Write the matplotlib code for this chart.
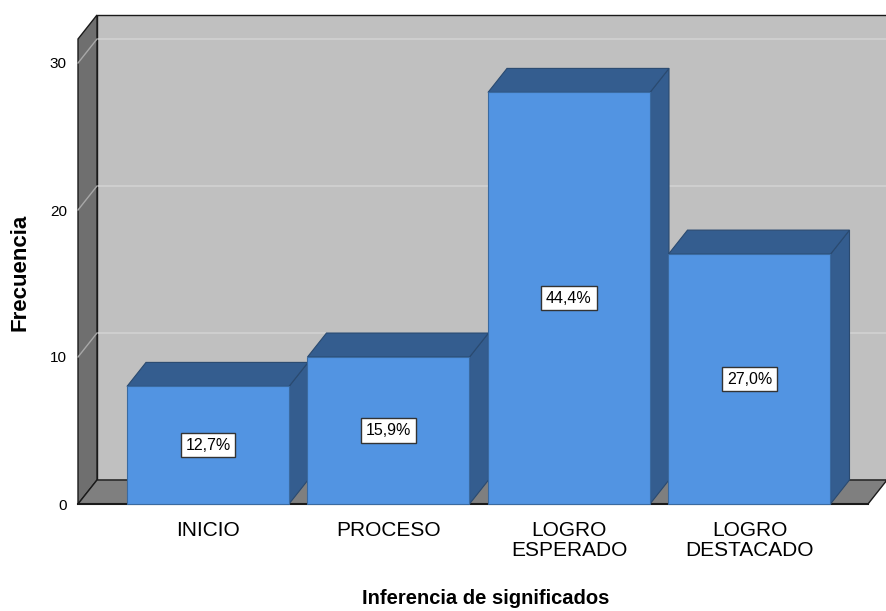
import matplotlib
matplotlib.use("Agg")
import matplotlib.pyplot as plt
from matplotlib.patches import Polygon

# Frecuencias por nivel
categorias = ["INICIO", "PROCESO", "LOGRO\nESPERADO", "LOGRO\nDESTACADO"]
frecuencias = [8, 10, 28, 17]
porcentajes = ["12,7%", "15,9%", "44,4%", "27,0%"]
yticks = [0, 10, 20, 30]

plt.rcParams["font.family"] = ["Liberation Sans", "DejaVu Sans"]

W, H = 887, 611
fig = plt.figure(figsize=(W / 100, H / 100), dpi=100)

# front plane in pixels
px_left, px_right, px_bottom, px_top = 78, 868, 504, 39
ax = fig.add_axes([px_left / W, (H - px_bottom) / H,
                   (px_right - px_left) / W, (px_bottom - px_top) / H])

ux = 180.5            # px per category
uy = 14.7             # px per unit
x0 = 208              # px of first category
xl = (px_left - x0) / ux
xr = (px_right - x0) / ux
ymax = (px_bottom - px_top) / uy
ax.set_xlim(xl, xr)
ax.set_ylim(0, ymax)

ddx = 19 / ux
ddy = 24 / uy
half = 81 / ux

wall = "#c0c0c0"
side_wall = "#6f6f6f"
floor = "#7f7f7f"
front = "#5294e2"
dark = "#345d8f"
edge = "#1a1a1a"

def poly(pts, fc, ec=edge, lw=1.0, z=1):
    p = Polygon(pts, closed=True, facecolor=fc, edgecolor=ec, linewidth=lw,
                clip_on=False, zorder=z, joinstyle="miter")
    ax.add_patch(p)

# back wall
poly([(xl + ddx, ddy), (xr + ddx + 0.5, ddy), (xr + ddx + 0.5, ymax + ddy),
      (xl + ddx, ymax + ddy)], wall, z=1)
for t in yticks[1:]:
    ax.plot([xl + ddx, xr + ddx + 0.5], [t + ddy, t + ddy], color="#d2d2d2",
            lw=1.2, zorder=2, clip_on=False)
# left wall
poly([(xl, 0), (xl + ddx, ddy), (xl + ddx, ymax + ddy), (xl, ymax)], side_wall, z=3)
for t in yticks[1:]:
    ax.plot([xl, xl + ddx], [t, t + ddy], color="#a8a8a8", lw=1.0, zorder=4,
            clip_on=False)
# floor
poly([(xl, 0), (xr, 0), (xr + ddx, ddy), (xl + ddx, ddy)], floor, z=3)
ax.plot([xl, xr], [0, 0], color=edge, lw=1.5, zorder=4, clip_on=False)

# bars
for i, (v, lab) in enumerate(zip(frecuencias, porcentajes)):
    a, b = i - half, i + half
    z = 5 + i
    poly([(b, 0), (b + ddx, ddy), (b + ddx, v + ddy), (b, v)], dark,
         ec="#2a4a70", lw=0.8, z=z)
    poly([(a, v), (b, v), (b + ddx, v + ddy), (a + ddx, v + ddy)], dark,
         ec="#2a4a70", lw=0.8, z=z)
    poly([(a, 0), (b, 0), (b, v), (a, v)], front, ec="#3a6aa0", lw=0.8, z=z)
    ax.text(i, v / 2, lab, ha="center", va="center", fontsize=11.5, zorder=20,
            bbox=dict(boxstyle="square,pad=0.3", fc="white", ec="#333333", lw=1.0))

ax.set_xticks(range(len(categorias)))
ax.set_xticklabels(categorias, fontsize=15, linespacing=1.1)
ax.set_yticks(yticks)
ax.set_yticklabels([str(t) for t in yticks], fontsize=11)
ax.tick_params(axis="both", length=0)
ax.tick_params(axis="x", pad=12)
ax.tick_params(axis="y", pad=8)
for s in ax.spines.values():
    s.set_visible(False)
ax.patch.set_visible(False)

fig.text(20 / W, 1 - 272 / H, "Frecuencia", rotation=90, ha="center", va="center",
         fontsize=16, fontweight="bold")
fig.text(486 / W, 1 - 599 / H, "Inferencia de significados", ha="center",
         va="center", fontsize=14.5, fontweight="bold")

fig.savefig("out.png", dpi=100)
